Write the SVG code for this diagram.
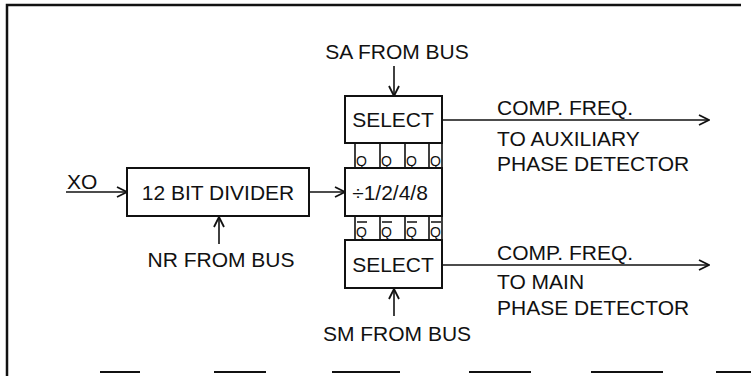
<svg xmlns="http://www.w3.org/2000/svg" width="751" height="376" viewBox="0 0 751 376">
<style>
text{font-family:"Liberation Sans",Arial,sans-serif;font-size:21px;fill:#111}
.box{fill:#fff;stroke:#111;stroke-width:2}
.ln{stroke:#111;stroke-width:1.6;fill:none}
.q{font-size:14px}
.frame{stroke:#111;stroke-width:2.5;fill:none}
</style>
<defs>
<marker id="ah" viewBox="0 0 12 12" refX="11" refY="6" markerWidth="12" markerHeight="12" markerUnits="userSpaceOnUse" orient="auto">
<path d="M1,1 L11,6 L1,11" fill="none" stroke="#111" stroke-width="1.8"/>
</marker>
</defs>
<g id="frame">
<path class="frame" d="M7,376 V5 H741"/>
<g fill="#111">
<rect x="100" y="371" width="40" height="2"/>
<rect x="214" y="371" width="52" height="2"/>
<rect x="332" y="371" width="68" height="2"/>
<rect x="469" y="371" width="62" height="2"/>
<rect x="591" y="371" width="72" height="2"/>
<rect x="716" y="371" width="35" height="2"/>
</g>
</g>
<g id="connectors">
<line class="ln" x1="66" y1="192" x2="127" y2="192" marker-end="url(#ah)"/>
<line class="ln" x1="309" y1="192" x2="345" y2="192" marker-end="url(#ah)"/>
<line class="ln" x1="219" y1="244" x2="219" y2="217" marker-end="url(#ah)"/>
<line class="ln" x1="394" y1="66" x2="394" y2="96" marker-end="url(#ah)"/>
<line class="ln" x1="394" y1="316" x2="394" y2="289" marker-end="url(#ah)"/>
<line class="ln" x1="442" y1="120" x2="709" y2="120" marker-end="url(#ah)"/>
<line class="ln" x1="442" y1="265" x2="709" y2="265" marker-end="url(#ah)"/>
</g>
<g id="xo-label"><text x="67" y="189">XO</text></g>
<g id="divider12">
<rect class="box" x="127" y="168" width="182" height="48"/>
<text x="218" y="200" text-anchor="middle">12 BIT DIVIDER</text>
</g>
<g id="nr-label"><text x="221" y="267" text-anchor="middle">NR FROM BUS</text></g>
<g id="sa-label"><text x="397" y="59" text-anchor="middle">SA FROM BUS</text></g>
<g id="sm-label"><text x="397" y="341" text-anchor="middle">SM FROM BUS</text></g>
<g id="select-top">
<rect class="box" x="345" y="96" width="97" height="47"/>
<text x="393" y="127" text-anchor="middle">SELECT</text>
</g>
<g id="q-row">
<path class="ln" d="M355,143V168M380,143V168M405,143V168M429,143V168M442,143V168"/>
<text class="q" x="356" y="166">Q</text>
<text class="q" x="381" y="166">Q</text>
<text class="q" x="406" y="166">Q</text>
<text class="q" x="430" y="166">Q</text>
</g>
<g id="divider-1248">
<rect class="box" x="345" y="168" width="97" height="48"/>
<text x="390" y="200" text-anchor="middle">÷1/2/4/8</text>
</g>
<g id="qbar-row">
<path class="ln" d="M355,216V240M380,216V240M405,216V240M429,216V240M442,216V240"/>
<path class="ln" stroke-width="1.2" d="M357,222H367M382,222H392M407,222H417M431,222H441"/>
<text class="q" x="356" y="237">Q</text>
<text class="q" x="381" y="237">Q</text>
<text class="q" x="406" y="237">Q</text>
<text class="q" x="430" y="237">Q</text>
</g>
<g id="select-bottom">
<rect class="box" x="345" y="240" width="97" height="48"/>
<text x="393" y="272" text-anchor="middle">SELECT</text>
</g>
<g id="out-top-labels">
<text x="497" y="115">COMP. FREQ.</text>
<text x="497" y="146">TO AUXILIARY</text>
<text x="497" y="171">PHASE DETECTOR</text>
</g>
<g id="out-bottom-labels">
<text x="497" y="260">COMP. FREQ.</text>
<text x="497" y="289">TO MAIN</text>
<text x="497" y="315">PHASE DETECTOR</text>
</g>
</svg>
